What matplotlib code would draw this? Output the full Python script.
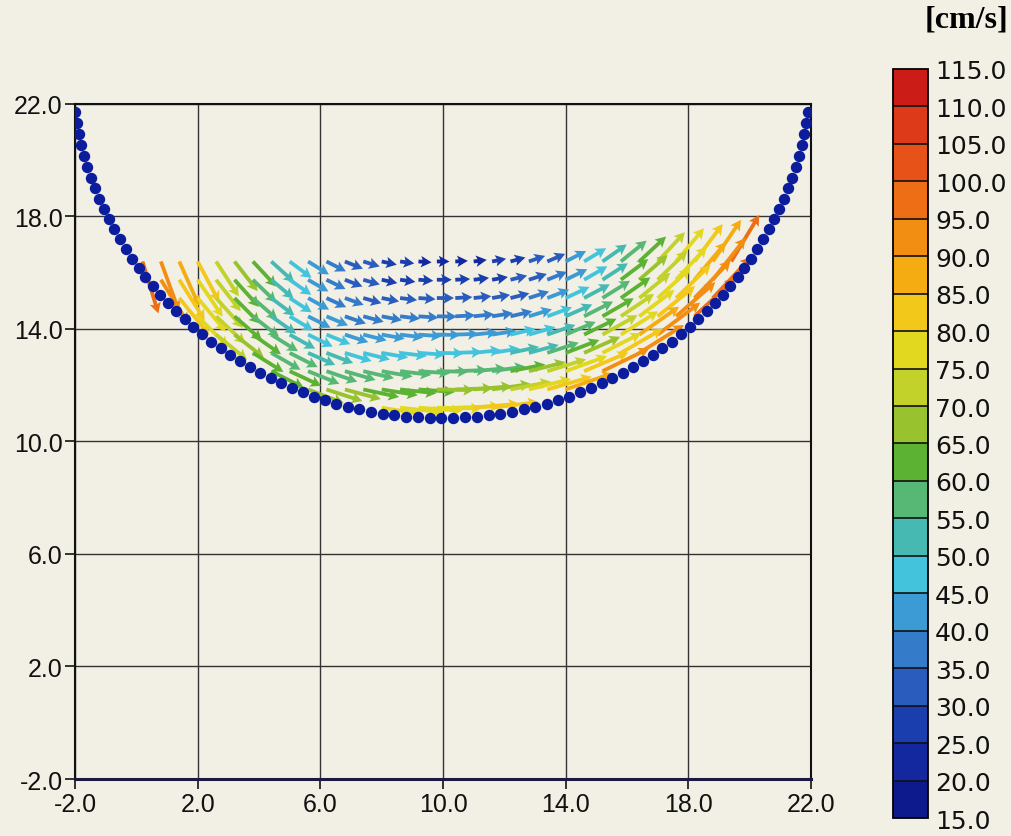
import numpy as np
import matplotlib
matplotlib.use('Agg')
from matplotlib import pyplot as plt
from matplotlib.colors import ListedColormap, BoundaryNorm
from matplotlib.colorbar import ColorbarBase


# legend classes [cm/s]
levels = [15, 20, 25, 30, 35, 40, 45, 50, 55, 60, 65,
          70, 75, 80, 85, 90, 95, 100, 105, 110, 115]
class_colors = ['#0c1a8e', '#13289e', '#1a3eae', '#2a5cbe', '#347cca',
                '#3c9ad4', '#44c4dc', '#46bab2', '#56b874', '#5cb232',
                '#98c22e', '#c2d22a', '#e2d820', '#f2c81a', '#f4ac12',
                '#f28e12', '#ee6e16', '#e65218', '#dc3a18', '#cc1c18']

# measuring grid (tail of every arrow)
col_x = [0.2, 0.8, 1.4, 2.0, 2.6, 3.2, 3.8, 4.4, 5.0, 5.6, 6.2, 6.8,
         7.4, 8.0, 8.6, 9.2, 9.8, 10.4, 11.0, 11.6, 12.2, 12.8, 13.4,
         14.0, 14.6, 15.2, 15.8, 16.4, 17.0, 17.6, 18.2, 18.8, 19.4, 20.0]
row_y = [16.4, 15.75, 15.1, 14.45, 13.8, 13.15, 12.5, 11.85, 11.2]
row_first_col = [0, 1, 2, 3, 4, 6, 7, 9, 13]

# speed [cm/s] of each arrow, one list per row, from row_first_col on
row_speed = [
    [95, 92, 85, 80, 73, 66, 60, 54, 48, 43, 38, 34, 30, 27, 25, 23, 22,
     22, 23, 25, 27, 30, 34, 40, 45, 52, 58, 64, 70, 76, 82, 88, 95],
    [90, 84, 78, 70, 64, 57, 51, 46, 41, 37, 33, 30, 28, 27, 26, 26,
     26, 27, 28, 30, 33, 37, 42, 47, 53, 60, 66, 72, 79, 86, 93],
    [83, 77, 70, 63, 57, 51, 46, 42, 38, 35, 33, 31, 30, 30, 30,
     30, 31, 32, 34, 37, 41, 46, 51, 57, 63, 70, 77, 84, 91, 98],
    [76, 70, 64, 58, 53, 48, 44, 41, 39, 37, 36, 35, 35, 35,
     35, 36, 37, 39, 42, 46, 51, 57, 63, 70, 77, 84, 91, 98],
    [70, 65, 60, 55, 51, 48, 45, 43, 42, 41, 41, 41, 41,
     41, 42, 43, 45, 48, 52, 57, 63, 70, 77, 85, 93],
    [63, 59, 55, 52, 50, 49, 48, 47, 47, 47, 47,
     47, 48, 49, 51, 54, 58, 63, 69, 76, 84, 92],
    [64, 61, 59, 57, 56, 55, 55, 55, 55, 55,
     56, 57, 59, 62, 66, 71, 77, 84, 91],
    [67, 66, 65, 64, 64, 64, 64, 65, 66, 67, 69, 72, 76, 81, 87],
    [75, 76, 77, 78, 79, 80, 82],
]

# arrow direction on the page [deg], same layout as row_speed
row_angle = [
    [-73, -70, -66, -62, -57, -52, -47, -42, -37, -32, -27, -22, -17, -12,
     -8, -4, 0, 3, 7, 11, 15, 19, 23, 27, 31, 35, 39, 43, 47, 50, 53, 56, 59],
    [-58, -58, -56, -52, -48, -44, -40, -35, -30, -26, -21, -16, -12, -8,
     -4, 0, 3, 7, 10, 14, 18, 22, 26, 30, 33, 37, 41, 44, 47, 50, 52],
    [-51, -50, -48, -45, -41, -37, -33, -29, -25, -20, -16, -11, -7, -4,
     0, 3, 6, 10, 14, 18, 21, 25, 28, 32, 35, 39, 42, 44, 46, 47],
    [-45, -43, -41, -38, -35, -31, -27, -23, -19, -15, -11, -7, -4, -1,
     3, 6, 9, 13, 17, 20, 24, 27, 30, 34, 37, 39, 41, 43],
    [-39, -38, -35, -32, -29, -26, -22, -18, -14, -10, -7, -4, -1,
     2, 6, 9, 13, 16, 19, 23, 26, 29, 32, 35, 37],
    [-32, -30, -27, -24, -21, -17, -14, -10, -7, -4, -1,
     2, 6, 9, 12, 15, 18, 21, 24, 27, 30, 32],
    [-27, -25, -22, -19, -16, -13, -10, -7, -4, -1,
     2, 5, 8, 11, 14, 17, 20, 23, 26],
    [-21, -18, -15, -12, -9, -6, -4, -1, 2, 5, 8, 11, 14, 16, 19],
    [-9, -6, -4, -1, 2, 5, 7],
]

# channel wall: half ellipse
wall_center = (9.95, 23.33)
wall_radii = (12.05, 12.5)
wall_theta = (7.4, 172.6)
wall_dots = 91

ticks = [-2, 2, 6, 10, 14, 18, 22]
tick_labels = ['-2.0', '2.0', '6.0', '10.0', '14.0', '18.0', '22.0']


def build_field():
    xs, ys, sp, ang = [], [], [], []
    for k in range(len(row_y)):
        first = row_first_col[k]
        for i, s in enumerate(row_speed[k]):
            xs.append(col_x[first + i])
            ys.append(row_y[k])
            sp.append(s)
            ang.append(row_angle[k][i])
    return np.array(xs), np.array(ys), np.array(sp, float), np.radians(ang)


if __name__ == '__main__':
    bg = '#f2efe5'
    fig = plt.figure(figsize=(10.11, 8.37), dpi=100, facecolor=bg)
    ax = fig.add_axes([0.0742, 0.0681, 0.728, 0.8065], facecolor=bg)

    cmap = ListedColormap(class_colors)
    norm = BoundaryNorm(levels, cmap.N)

    x, y, speed, ang = build_field()
    ax.quiver(x, y, speed * np.cos(ang), speed * np.sin(ang), speed,
              cmap=cmap, norm=norm, angles='uv', pivot='tail',
              scale_units='inches', scale=175, units='dots', width=3.8,
              headwidth=3.0, headlength=2.8, headaxislength=2.4, zorder=3)

    t = np.radians(np.linspace(wall_theta[0], wall_theta[1], wall_dots))
    wx = wall_center[0] + wall_radii[0] * np.cos(t)
    wy = wall_center[1] - wall_radii[1] * np.sin(t)
    ax.plot(wx, wy, 'o', color='#0b1d9c', markersize=7.2, zorder=4)

    ax.set_xlim(-2, 22)
    ax.set_ylim(-2, 22)
    ax.set_xticks(ticks)
    ax.set_xticklabels(tick_labels)
    ax.set_yticks(ticks)
    ax.set_yticklabels(tick_labels)
    ax.grid(True, color='#333333', linewidth=1.0)
    ax.set_axisbelow(True)
    ax.tick_params(direction='out', length=7, width=1.2, pad=2,
                   labelsize=18, colors='#111111')
    for lab in ax.get_xticklabels() + ax.get_yticklabels():
        lab.set_family(['Liberation Sans Narrow', 'Liberation Sans'])
    for sp in ax.spines.values():
        sp.set_linewidth(1.5)
        sp.set_color('#111111')
    ax.spines['bottom'].set_linewidth(2.2)
    ax.spines['bottom'].set_color('#1a1a40')

    # colour bar kept a little shorter so the 15.0 label stays whole
    cax = fig.add_axes([0.8833, 0.0215, 0.0346, 0.8949])
    cb = ColorbarBase(cax, cmap=cmap, norm=norm, boundaries=levels,
                      ticks=levels, spacing='uniform', drawedges=True,
                      format='%.1f')
    cb.outline.set_linewidth(1.3)
    cb.dividers.set_color('#111111')
    cb.dividers.set_linewidth(1.2)
    cax.tick_params(length=0, pad=5, labelsize=18, colors='#111111')

    fig.text(0.997, 0.976, '[cm/s]', ha='right', va='center',
             family='Liberation Serif', weight='bold', fontsize=23)

    fig.savefig('out.png', dpi=100, facecolor=bg)
